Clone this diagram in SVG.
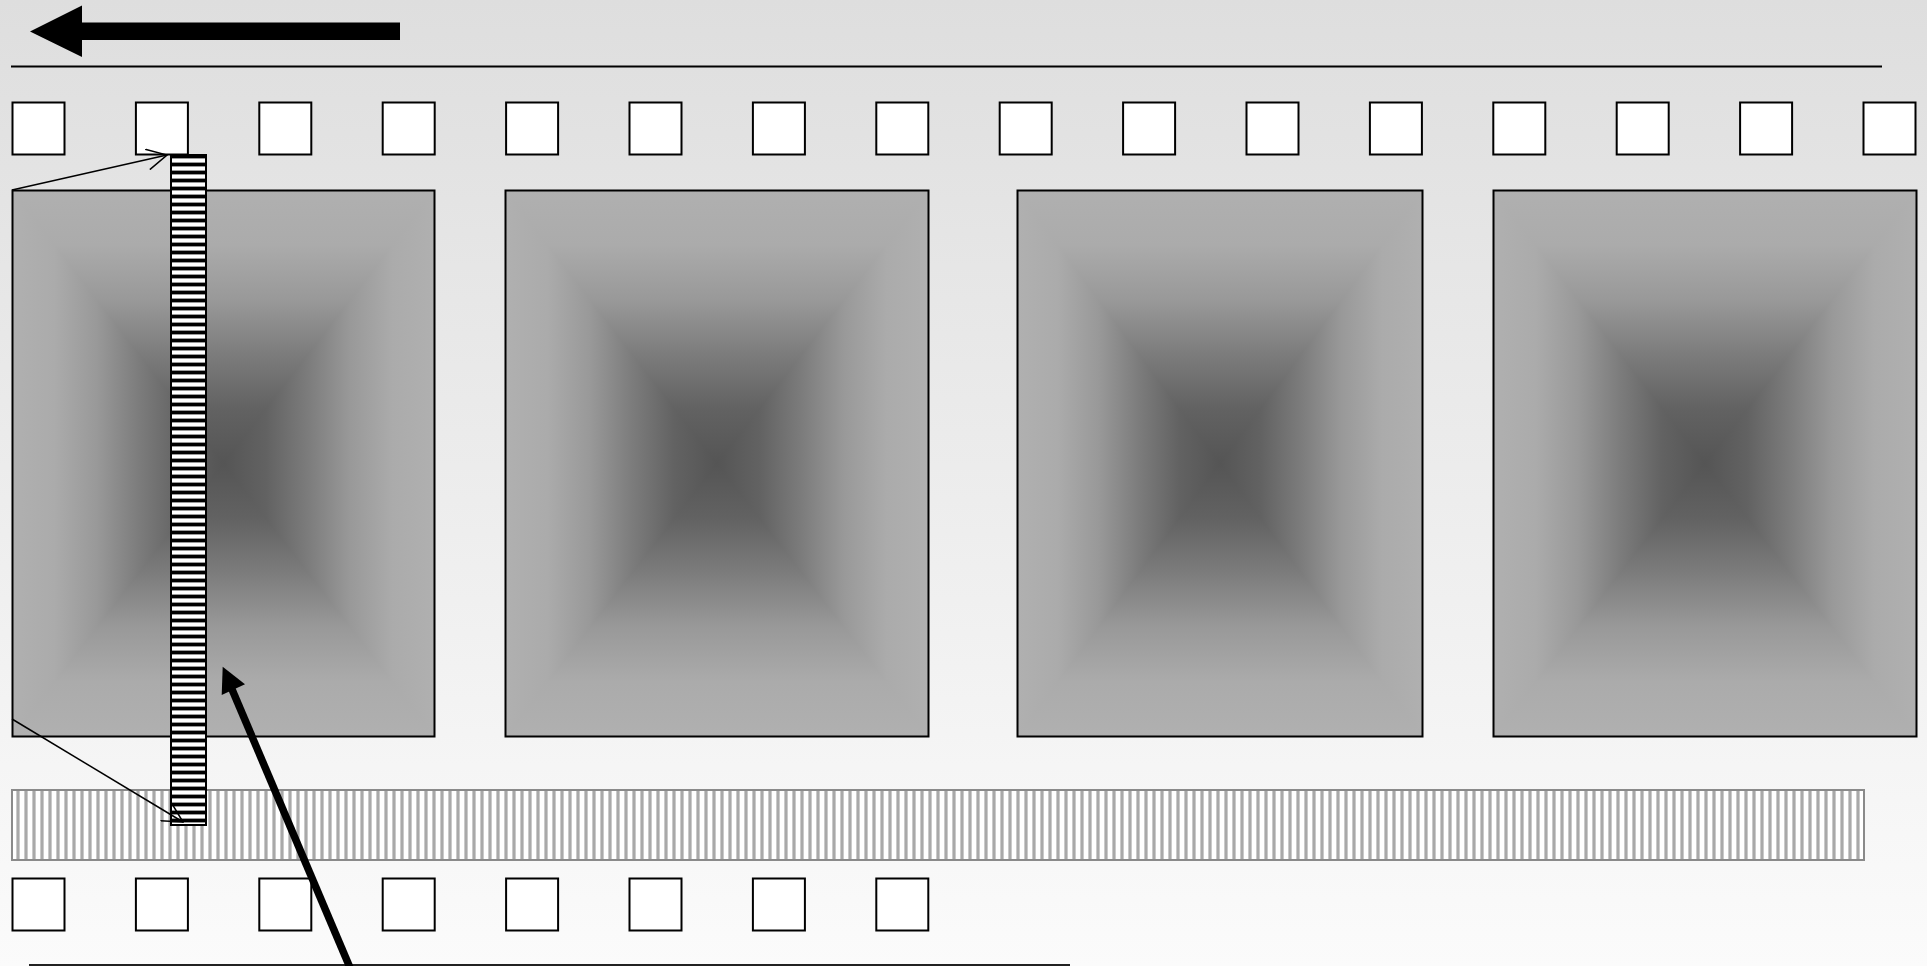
<svg xmlns="http://www.w3.org/2000/svg" width="1927" height="966" viewBox="0 0 1927 966">
  <defs>
    <linearGradient id="bg" x1="0" y1="0" x2="0" y2="1">
      <stop offset="0" stop-color="#dedede"/>
      <stop offset="1" stop-color="#fbfbfb"/>
    </linearGradient>
    <linearGradient id="gVert" x1="0" y1="0" x2="0" y2="1">
      <stop offset="0" stop-color="#b0b0b0"/>
      <stop offset="0.1" stop-color="#ababab"/>
      <stop offset="0.2" stop-color="#999"/>
      <stop offset="0.3" stop-color="#7c7c7c"/>
      <stop offset="0.4" stop-color="#626262"/>
      <stop offset="0.5" stop-color="#555"/>
      <stop offset="0.6" stop-color="#626262"/>
      <stop offset="0.7" stop-color="#7c7c7c"/>
      <stop offset="0.8" stop-color="#999"/>
      <stop offset="0.9" stop-color="#ababab"/>
      <stop offset="1" stop-color="#b0b0b0"/>
    </linearGradient>
    <linearGradient id="gLeft" x1="0" y1="0" x2="1" y2="0">
      <stop offset="0" stop-color="#b0b0b0"/>
      <stop offset="0.2" stop-color="#ababab"/>
      <stop offset="0.4" stop-color="#999"/>
      <stop offset="0.6" stop-color="#7c7c7c"/>
      <stop offset="0.8" stop-color="#626262"/>
      <stop offset="1" stop-color="#555"/>
    </linearGradient>
    <linearGradient id="gRight" x1="1" y1="0" x2="0" y2="0">
      <stop offset="0" stop-color="#b0b0b0"/>
      <stop offset="0.2" stop-color="#ababab"/>
      <stop offset="0.4" stop-color="#999"/>
      <stop offset="0.6" stop-color="#7c7c7c"/>
      <stop offset="0.8" stop-color="#626262"/>
      <stop offset="1" stop-color="#555"/>
    </linearGradient>
    <pattern id="ladder" patternUnits="userSpaceOnUse" x="170" y="155" width="40" height="8">
      <rect x="0" y="0" width="40" height="8" fill="#000"/>
      <rect x="0" y="3" width="40" height="1" fill="#999"/>
      <rect x="0" y="4" width="40" height="3" fill="#fff"/>
      <rect x="0" y="7" width="40" height="1" fill="#999"/>
    </pattern>
    <pattern id="film" patternUnits="userSpaceOnUse" x="12" y="790" width="8" height="80">
      <rect x="0" y="0" width="8" height="80" fill="#fff"/>
      <rect x="4" y="0" width="1" height="80" fill="#cacaca"/>
      <rect x="5" y="0" width="2" height="80" fill="#a9a9a9"/>
      <rect x="7" y="0" width="1" height="80" fill="#cacaca"/>
    </pattern>
    <marker id="open" viewBox="0 0 22 22" refX="21" refY="11" markerWidth="22" markerHeight="22" markerUnits="userSpaceOnUse" orient="auto">
      <path d="M1,0.5 L21,11 L1,21.5" fill="none" stroke="#000" stroke-width="1.5"/>
    </marker>
  </defs>
  <style>
    .sq { fill: #fff; stroke: #000; stroke-width: 2; }
    .frame { fill: none; stroke: #000; stroke-width: 2; }
    .thin { fill: none; stroke: #000; stroke-width: 1.5; }
  </style>

  <rect x="0" y="0" width="1927" height="966" fill="url(#bg)"/>

  <g id="direction-arrow">
    <polygon points="30,31.5 82,5.5 82,22.5 400,22.5 400,40 82,40 82,57" fill="#000"/>
  </g>
  <g id="top-rule">
    <line x1="11" y1="66.5" x2="1882" y2="66.5" stroke="#000" stroke-width="2"/>
  </g>

  <g id="top-perforations">
    <rect class="sq" x="12.5" y="102.5" width="52" height="52"/>
    <rect class="sq" x="135.9" y="102.5" width="52" height="52"/>
    <rect class="sq" x="259.3" y="102.5" width="52" height="52"/>
    <rect class="sq" x="382.7" y="102.5" width="52" height="52"/>
    <rect class="sq" x="506.1" y="102.5" width="52" height="52"/>
    <rect class="sq" x="629.5" y="102.5" width="52" height="52"/>
    <rect class="sq" x="752.9" y="102.5" width="52" height="52"/>
    <rect class="sq" x="876.3" y="102.5" width="52" height="52"/>
    <rect class="sq" x="999.7" y="102.5" width="52" height="52"/>
    <rect class="sq" x="1123.1" y="102.5" width="52" height="52"/>
    <rect class="sq" x="1246.5" y="102.5" width="52" height="52"/>
    <rect class="sq" x="1369.9" y="102.5" width="52" height="52"/>
    <rect class="sq" x="1493.3" y="102.5" width="52" height="52"/>
    <rect class="sq" x="1616.7" y="102.5" width="52" height="52"/>
    <rect class="sq" x="1740.1" y="102.5" width="52" height="52"/>
    <rect class="sq" x="1863.5" y="102.5" width="52" height="52"/>
  </g>

  <g id="frame-1">
    <rect x="12" y="190" width="423" height="547" fill="url(#gVert)"/>
    <polygon points="12,190 12,737 223.5,463.5" fill="url(#gLeft)"/>
    <polygon points="435,190 435,737 223.5,463.5" fill="url(#gRight)"/>
    <rect class="frame" x="12.5" y="190.5" width="422" height="546"/>
  </g>
  <g id="frame-2">
    <rect x="505" y="190" width="424" height="547" fill="url(#gVert)"/>
    <polygon points="505,190 505,737 717,463.5" fill="url(#gLeft)"/>
    <polygon points="929,190 929,737 717,463.5" fill="url(#gRight)"/>
    <rect class="frame" x="505.5" y="190.5" width="423" height="546"/>
  </g>
  <g id="frame-3">
    <rect x="1017" y="190" width="406" height="547" fill="url(#gVert)"/>
    <polygon points="1017,190 1017,737 1220,463.5" fill="url(#gLeft)"/>
    <polygon points="1423,190 1423,737 1220,463.5" fill="url(#gRight)"/>
    <rect class="frame" x="1017.5" y="190.5" width="405" height="546"/>
  </g>
  <g id="frame-4">
    <rect x="1493" y="190" width="424" height="547" fill="url(#gVert)"/>
    <polygon points="1493,190 1493,737 1705,463.5" fill="url(#gLeft)"/>
    <polygon points="1917,190 1917,737 1705,463.5" fill="url(#gRight)"/>
    <rect class="frame" x="1493.5" y="190.5" width="423" height="546"/>
  </g>

  <g id="sound-track">
    <rect x="12" y="790" width="1852" height="70" fill="url(#film)" stroke="#8a8a8a" stroke-width="2"/>
  </g>

  <g id="bottom-perforations">
    <rect class="sq" x="12.5" y="878.5" width="52" height="52"/>
    <rect class="sq" x="135.9" y="878.5" width="52" height="52"/>
    <rect class="sq" x="259.3" y="878.5" width="52" height="52"/>
    <rect class="sq" x="382.7" y="878.5" width="52" height="52"/>
    <rect class="sq" x="506.1" y="878.5" width="52" height="52"/>
    <rect class="sq" x="629.5" y="878.5" width="52" height="52"/>
    <rect class="sq" x="752.9" y="878.5" width="52" height="52"/>
    <rect class="sq" x="876.3" y="878.5" width="52" height="52"/>
  </g>

  <g id="ladder-strip">
    <rect x="171" y="155" width="35" height="670" fill="url(#ladder)" stroke="#000" stroke-width="2"/>
  </g>

  <g id="bottom-rule">
    <line x1="29" y1="965" x2="1070" y2="965" stroke="#222" stroke-width="2"/>
  </g>

  <g id="connectors">
    <line class="thin" x1="12" y1="190" x2="167" y2="155" marker-end="url(#open)"/>
    <line class="thin" x1="12" y1="719" x2="183" y2="822" marker-end="url(#open)"/>
    <line x1="231" y1="687" x2="362" y2="996" stroke="#000" stroke-width="7.5"/>
    <polygon points="222.7,666.7 245,684.3 221.7,695" fill="#000"/>
  </g>
</svg>
